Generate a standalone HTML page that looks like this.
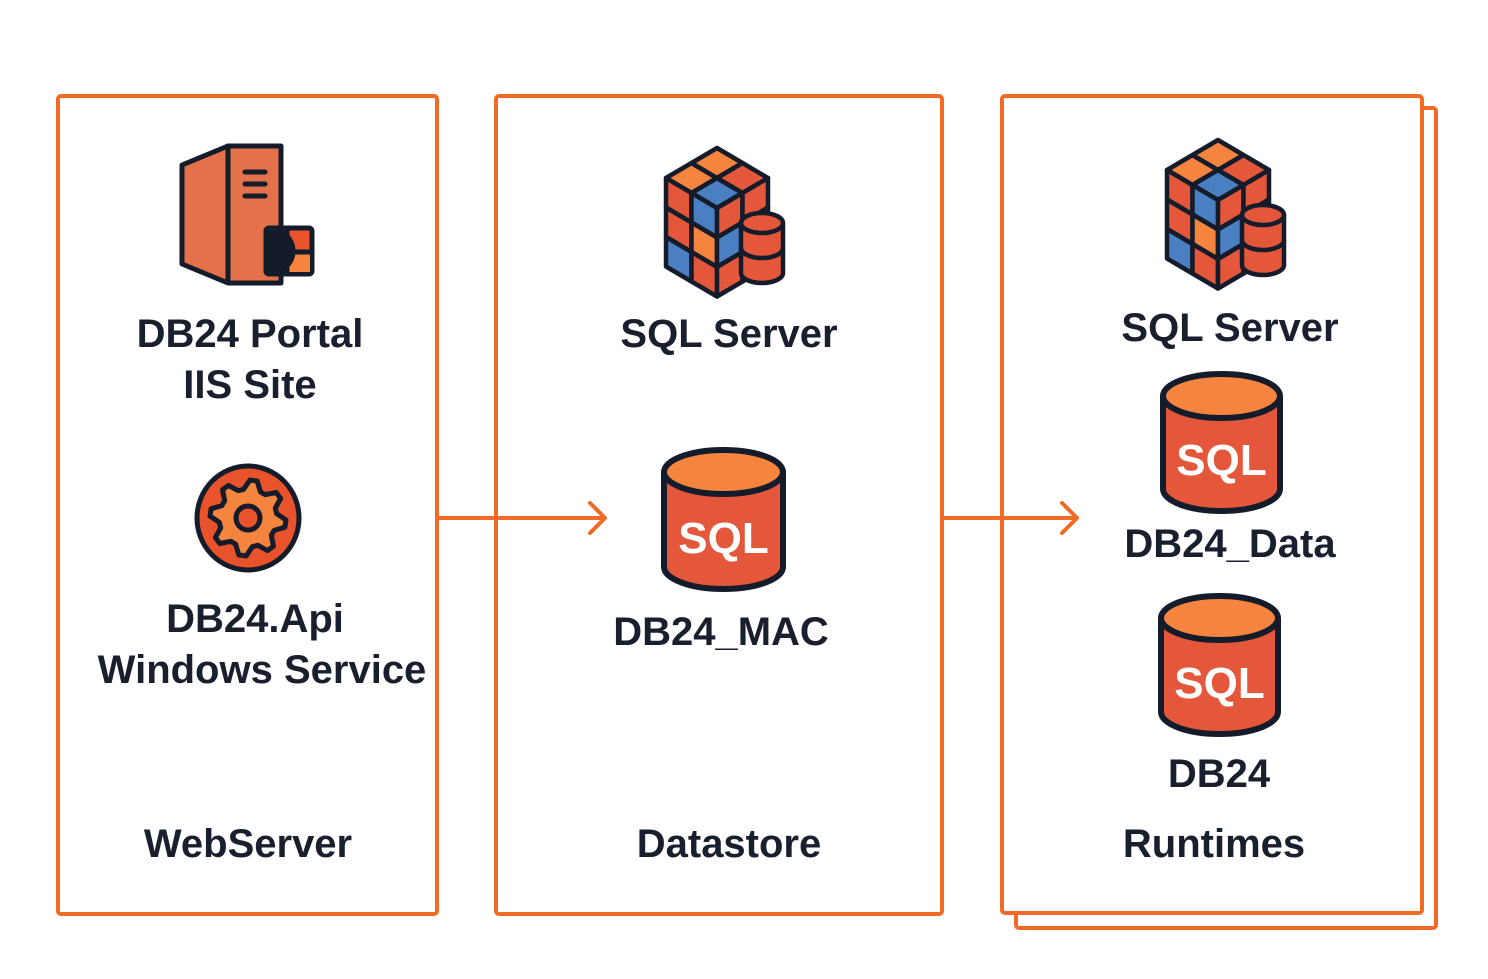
<!DOCTYPE html>
<html><head><meta charset="utf-8"><style>
html,body{margin:0;padding:0;background:#fff}
svg{display:block}
text{font-family:"Liberation Sans",sans-serif;font-weight:bold;fill:#1a1f2e;text-anchor:middle}
.sql{fill:#fff;font-size:44px}
</style></head><body>
<svg id="s" width="1488" height="979" viewBox="0 0 1488 979" xmlns="http://www.w3.org/2000/svg">
<rect width="1488" height="979" fill="#fff"/>
<g fill="none" stroke="#f26a25" stroke-width="4">
<rect x="58" y="96" width="379" height="818" rx="3"/>
<rect x="496" y="96" width="446" height="818" rx="3"/>
<rect x="1016" y="108" width="420" height="820" rx="3"/>
<rect x="1002" y="96" width="420" height="817" rx="3" fill="#fff"/>
<path d="M437 518H604M590 503l15 15-15 15" stroke-linecap="round" stroke-linejoin="round"/>
<path d="M942 518H1076M1062 503l15 15-15 15" stroke-linecap="round" stroke-linejoin="round"/>
</g>
<!-- server icon -->
<g stroke="#141b2a" stroke-width="5" stroke-linejoin="round">
<polygon points="182,165 228,146 228,283 182,264" fill="#e4714a"/>
<rect x="228" y="146" width="53" height="137" fill="#e4714a"/>
<path d="M245 172h20M245 184h20M245 196h20" stroke-linecap="round"/>
<rect x="266" y="228" width="46" height="46" rx="3" fill="#e8532b"/>
<rect x="287" y="253" width="23" height="19" fill="#f5843f" stroke="none"/>
<path d="M287 230v42M287 252h24"/>
<path d="M266 230h6a20 20 0 0 1 0 42h-6z" fill="#141b2a"/>
</g>
<!-- gear -->
<g stroke="#141b2a" stroke-width="5" stroke-linejoin="round">
<ellipse cx="248" cy="518" rx="51" ry="52" fill="#e8532b"/>
<path id="gear" fill="#f5843f" d=""/>
<circle cx="248" cy="518" r="12" fill="#e8532b"/>
</g>
<!-- SQL cylinders -->
<g id="cyls" stroke="#141b2a" stroke-width="6"></g>
<g id="cubes" stroke="#141b2a" stroke-width="4.5" stroke-linejoin="round"></g>
<text x="250" y="347" font-size="40">DB24 Portal</text>
<text x="250" y="398" font-size="40">IIS Site</text>
<text x="255" y="632" font-size="40">DB24.Api</text>
<text x="262" y="683" font-size="40">Windows Service</text>
<text x="248" y="857" font-size="40">WebServer</text>
<text x="729" y="347" font-size="40">SQL Server</text>
<text x="721" y="645" font-size="40">DB24_MAC</text>
<text x="729" y="857" font-size="40">Datastore</text>
<text x="1230" y="341" font-size="40">SQL Server</text>
<text x="1230" y="557" font-size="40">DB24_Data</text>
<text x="1219" y="787" font-size="40">DB24</text>
<text x="1214" y="857" font-size="40">Runtimes</text>
<g id="sqltxt"></g>
</svg>
<script>
var NS="http://www.w3.org/2000/svg";
function el(p,t,a){var e=document.createElementNS(NS,t);for(var k in a)e.setAttribute(k,a[k]);p.appendChild(e);return e;}
// gear path
(function(){var cx=248,cy=518,d="",n=8;for(var i=0;i<n*4;i++){var a=i/(n*4)*Math.PI*2-Math.PI/2+Math.PI/(n*4)*0.5;var r=(i%4<2)?38:29;d+=(i?"L":"M")+(cx+r*Math.cos(a)).toFixed(1)+" "+(cy+r*Math.sin(a)).toFixed(1);}document.getElementById("gear").setAttribute("d",d+"Z");})();
// cylinders
function cyl(g,x1,x2,y1,y2,tx,ty,tg){var cx=(x1+x2)/2,rx=(x2-x1)/2,ry=22;
el(g,"path",{d:"M"+x1+" "+(y1+ry)+"V"+(y2-ry)+"A"+rx+" "+ry+" 0 0 0 "+x2+" "+(y2-ry)+"V"+(y1+ry),fill:"#e4573a"});
el(g,"ellipse",{cx:cx,cy:y1+ry,rx:rx,ry:ry,fill:"#f5843f"});
var t=el(tg,"text",{x:cx,y:ty,"class":"sql"});t.textContent="SQL";}
var cg=document.getElementById("cyls"),tg=document.getElementById("sqltxt");
cyl(cg,664,783,450,589,723,553,tg);
cyl(cg,1163,1280,374,511,1222,475,tg);
cyl(cg,1161,1278,596,734,1220,698,tg);
// cubes
var O="#f5843f",R="#e4573a",B="#4a7fc1";
function cube(g,ox,oy){
 var ux=25.5,uy=15,vh=29.5;
 function P(pts){return pts.map(function(p){return p[0].toFixed(1)+","+p[1].toFixed(1)}).join(" ");}
 var top=[[O,B],[R,O]],lf=[[R,B],[R,O],[B,R]],rt=[[R,R],[B,R],[R,R]];
 // top: origin left (ox,oy); u along (ux,-uy), w along (ux,uy)
 for(var u=0;u<2;u++)for(var w=0;w<2;w++){var b=[ox+u*ux+w*ux,oy-u*uy+w*uy];
  el(g,"polygon",{points:P([b,[b[0]+ux,b[1]-uy],[b[0]+2*ux,b[1]],[b[0]+ux,b[1]+uy]]),fill:[[O,B],[O,R]][u][w]});}
 // left face
 for(var u=0;u<2;u++)for(var v=0;v<3;v++){var b=[ox+u*ux,oy+u*uy+v*vh];
  el(g,"polygon",{points:P([b,[b[0]+ux,b[1]+uy],[b[0]+ux,b[1]+uy+vh],[b[0],b[1]+vh]]),fill:[[R,R,B],[B,O,R]][u][v]});}
 // right face
 var rx0=ox+2*ux,ry0=oy+2*uy;
 for(var u=0;u<2;u++)for(var v=0;v<3;v++){var b=[rx0+u*ux,ry0-u*uy+v*vh];
  el(g,"polygon",{points:P([b,[b[0]+ux,b[1]-uy],[b[0]+ux,b[1]-uy+vh],[b[0],b[1]+vh]]),fill:[[R,B,R],[R,R,R]][u][v]});}
 // small cylinder
 var cx=ox+96,cy=oy+45,rx=21,ry=10,h=50;
 el(g,"path",{d:"M"+(cx-rx)+" "+cy+"V"+(cy+h)+"A"+rx+" "+ry+" 0 0 0 "+(cx+rx)+" "+(cy+h)+"V"+cy,fill:R});
 el(g,"path",{d:"M"+(cx-rx)+" "+(cy+h/2)+"A"+rx+" "+ry+" 0 0 0 "+(cx+rx)+" "+(cy+h/2),fill:"none"});
 el(g,"ellipse",{cx:cx,cy:cy,rx:rx,ry:ry,fill:R});
}
var cb=document.getElementById("cubes");
cube(cb,666,178);
cube(cb,1167,170);
</script>
</body></html>
